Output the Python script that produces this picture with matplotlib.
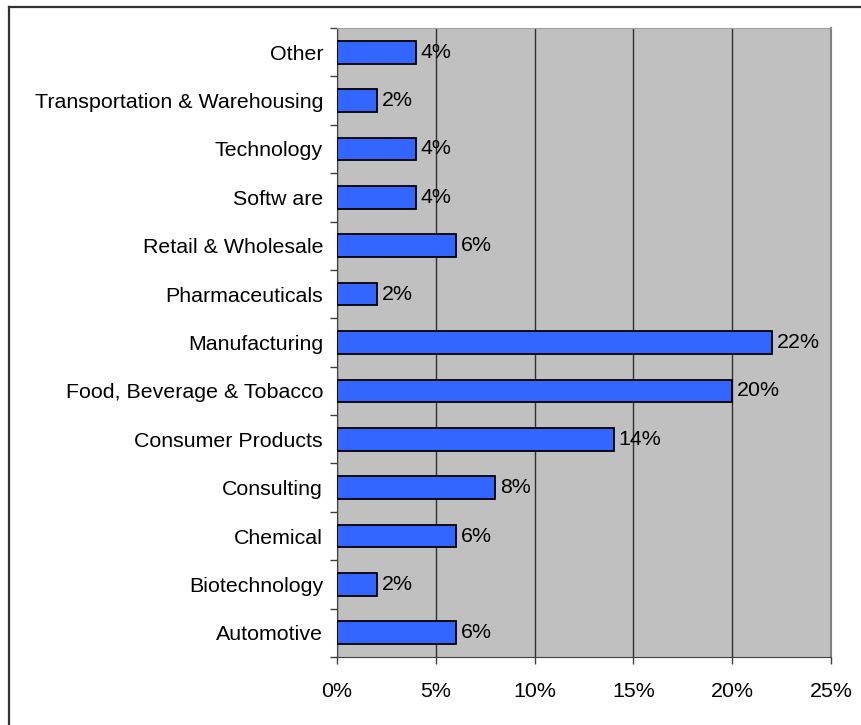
import matplotlib.pyplot as plt
from matplotlib.lines import Line2D
import numpy as np

plt.rcParams['font.family'] = ['Liberation Sans', 'DejaVu Sans']

categories = ["Automotive", "Biotechnology", "Chemical", "Consulting", "Consumer Products",
              "Food, Beverage & Tobacco", "Manufacturing", "Pharmaceuticals",
              "Retail & Wholesale", "Softw are", "Technology",
              "Transportation & Warehousing", "Other"]
shares = [6, 2, 6, 8, 14, 20, 22, 2, 6, 4, 4, 2, 4]
xticks = [0, 5, 10, 15, 20, 25]

FS = 15.4
W, H = 861, 725
fig = plt.figure(figsize=(W / 100, H / 100), dpi=100)
ax = fig.add_axes([337 / W, 1 - 657 / H, (831 - 337) / W, (657 - 28) / H])
ax.set_facecolor('#C0C0C0')

y = np.arange(len(categories))
ax.barh(y, shares, height=0.47, color='#3366FF', edgecolor='black', linewidth=1.3, zorder=3)
for yi, v in zip(y, shares):
    ax.text(v + 0.25, yi, f"{v}%", va='center', ha='left', fontsize=FS, zorder=4)

ax.set_xlim(0, 25)
ax.set_ylim(-0.5, len(categories) - 0.5)
ax.set_xticks(xticks)
ax.set_xticklabels([f"{t}%" for t in xticks], fontsize=FS)
ax.xaxis.grid(True, color='#303030', linewidth=1.0, zorder=1)

# category boundaries get tick marks, names sit between them
ax.set_yticks(np.arange(-0.5, len(categories), 1.0))
ax.set_yticklabels([])
ax.set_yticks(y, minor=True)
ax.set_yticklabels(categories, minor=True, fontsize=FS)
ax.tick_params(axis='y', which='minor', length=0, pad=10)
ax.tick_params(axis='y', which='major', length=5, width=1, color='#404040')
ax.tick_params(axis='x', length=5, width=1, color='#404040', pad=13)

ax.spines['top'].set_color('#A0A0A0')
ax.spines['right'].set_color('#808080')
ax.spines['right'].set_linewidth(1.5)
ax.spines['left'].set_color('#404040')
ax.spines['bottom'].set_color('#404040')

# chart frame: only its top and left edges fall inside the image
fig.add_artist(Line2D([9 / W, 9 / W], [0, 1 - 7 / H], transform=fig.transFigure,
                      color='#333333', linewidth=1.6))
fig.add_artist(Line2D([9 / W, 1], [1 - 7 / H, 1 - 7 / H], transform=fig.transFigure,
                      color='#333333', linewidth=1.6))

fig.savefig('out.png', dpi=100)
